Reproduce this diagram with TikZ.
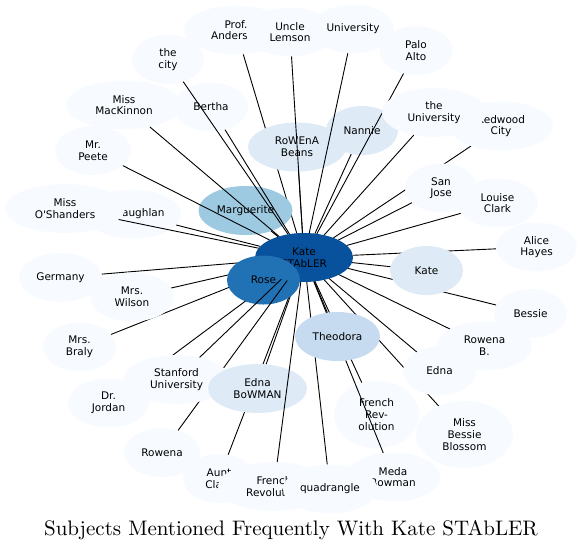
\documentclass[tikz,border=0pt]{standalone}
\usepackage{fontspec}
\usetikzlibrary{shapes.geometric}
\newfontfamily\nodefont{DejaVu Sans}
\newfontfamily\titlefont{lmroman10-regular}[Extension=.otf]
\definecolor{blueA}{HTML}{08519C}
\definecolor{blueB}{HTML}{2171B5}
\definecolor{blueC}{HTML}{9ECAE1}
\definecolor{blueD}{HTML}{C6DBEF}
\definecolor{blueE}{HTML}{DEEBF7}
\definecolor{blueF}{HTML}{F7FBFF}
\pgfdeclarelayer{hub}
\pgfdeclarelayer{under}
\pgfdeclarelayer{outer}
\pgfdeclarelayer{middle}
\pgfdeclarelayer{inner}
\pgfsetlayers{hub,under,outer,middle,inner,main}
\tikzset{
	subj/.style={ellipse, draw=none, fill=blueF, inner sep=0pt, outer sep=0pt, minimum height=49, align=center, font=\nodefont\fontsize{10.5}{11.7}\selectfont},
	link/.style={line width=0.9pt, black}
}
\begin{document}
\begin{tikzpicture}[x=1pt, y=-1pt]
		
		\useasboundingbox (0,0) rectangle (581,550);
		
		\begin{pgfonlayer}{hub}
		\node[subj, fill=blueA, minimum width=98] (kst) at (304,257.5) {Kate\\STAbLER};
		\end{pgfonlayer}
		
		\begin{pgfonlayer}{outer}
		\node[subj, fill=blueB, minimum width=73] (rose) at (263.5,280) {Rose};
		\node[subj, fill=blueC, minimum width=94] (marg) at (245.5,210.5) {Marguerite};
		\node[subj, fill=blueE, minimum width=98] (rowb) at (297,147) {RoWEnA\\Beans};
		\node[subj, fill=blueE, minimum width=72] (nannie) at (362,130.5) {Nannie};
		\node[subj, fill=blueE, minimum width=73] (kate) at (426.5,270.5) {Kate};
		\node[subj, minimum width=72] (city) at (168,59.5) {the\\city};
		\node[subj, minimum width=104] (prof) at (236,30) {Prof.\\Anderson};
		\node[subj, minimum width=88] (uncle) at (290,32) {Uncle\\Lemson};
		\node[subj, minimum width=82] (univ) at (353,29) {University};
		\node[subj, minimum width=73] (palo) at (416,50.5) {Palo\\Alto};
		\node[subj, minimum width=104] (redw) at (501,126) {Redwood\\City};
		\node[subj, minimum width=116] (mack) at (124,105) {Miss\\MacKinnon};
		\node[subj, minimum width=74] (bertha) at (211,107) {Bertha};
		\node[subj, minimum width=76] (peete) at (93,150.5) {Mr.\\Peete};
		\node[subj, minimum width=96] (mcl) at (133,214) {McLaughlan};
		\node[subj, minimum width=120] (oshan) at (65,208.5) {Miss\\O'Shanders};
		\node[subj, minimum width=83] (germ) at (60.5,277.5) {Germany};
		\node[subj, minimum width=84] (wilson) at (132,297) {Mrs.\\Wilson};
		\node[subj, minimum width=73] (braly) at (79.5,347) {Mrs.\\Braly};
		\node[subj, minimum width=81] (jordan) at (108.5,403) {Dr.\\Jordan};
		\node[subj, minimum width=76] (rowena) at (162,452.5) {Rowena};
		\node[subj, minimum width=72] (aunt) at (219,478.5) {Aunt\\Clara};
		\node[subj, minimum width=112] (frrev) at (274,486.5) {French\\Revolution};
		\node[subj, minimum width=95] (meda) at (393,477) {Meda\\Bowman};
		\node[subj, minimum width=94] (quad) at (330,489) {quadrangle};
		\node[subj, minimum width=85, minimum height=68] (frrevb) at (376.5,414.5) {French\\Rev-\\olution};
		\node[subj, minimum width=97, minimum height=67] (blossom) at (464.5,434.5) {Miss\\Bessie\\Blossom};
		\node[subj, minimum width=73] (edna) at (439.5,371) {Edna};
		\node[subj, minimum width=95] (rowenab) at (484.5,346) {Rowena\\B.};
		\node[subj, minimum width=73] (bessie) at (530.5,313.5) {Bessie};
		\node[subj, minimum width=81] (alice) at (536.5,247) {Alice\\Hayes};
		\node[subj, minimum width=72] (sanjose) at (441,188) {San\\Jose};
		\node[subj, minimum width=81] (louise) at (497.5,203) {Louise\\Clark};
		\end{pgfonlayer}
		
		\begin{pgfonlayer}{inner}
		\node[subj, minimum width=104] (theuniv) at (434,112.5) {the\\University};
		\node[subj, minimum width=107] (stan) at (176.5,379.5) {Stanford\\University};
		\node[subj, fill=blueE, minimum width=99] (ednab) at (257.5,388.5) {Edna\\BoWMAN};
		\node[subj, fill=blueD, minimum width=85] (theo) at (337.5,336.5) {Theodora};
		\end{pgfonlayer}
		
		\begin{pgfonlayer}{under}
		\draw[link] (kst) -- (germ);
		\draw[link] (kst) -- (wilson);
		\draw[link] (kst) -- (braly);
		\draw[link] (kst) -- (jordan);
		\draw[link] (kst) -- (prof);
		\draw[link] (kst) -- (redw);
		\draw[link] (kst) -- (bessie);
		\draw[link] (kst) -- (alice);
		\draw[link] (kst) -- (aunt);
		\draw[link] (kst) -- (blossom);
		\draw[link] (kst) -- (quad);
		\draw[link] (kst) -- (marg);
		\draw[link] (kst) -- (rose);
		\draw[link] (kst) -- (theo);
		\draw[link] (kst) -- (kate);
		\draw[link] (kst) -- (rowb);
		\draw[link] (kst) -- (nannie);
		\draw[link] (kst) -- (ednab);
		\draw[link] (kst) -- (mcl);
		\draw[link] (kst) -- (sanjose);
		\draw[link] (kst) -- (louise);
		\draw[link] (kst) -- (rowenab);
		\end{pgfonlayer}
		
		\begin{pgfonlayer}{middle}
		\draw[link] (kst) -- (palo);
		\draw[link] (kst) -- (rowena);
		\draw[link] (kst) -- (meda);
		\draw[link] (kst) -- (frrevb);
		\end{pgfonlayer}
		
		\draw[link] (kst) -- (city);
		\draw[link] (kst) -- (uncle);
		\draw[link] (kst) -- (univ);
		\draw[link] (kst) -- (theuniv);
		\draw[link] (kst) -- (mack);
		\draw[link] (kst) -- (bertha);
		\draw[link] (kst) -- (peete);
		\draw[link] (kst) -- (oshan);
		\draw[link] (kst) -- (stan);
		\draw[link] (kst) -- (frrev);
		\draw[link] (kst) -- (edna);
		
		\node[font=\titlefont\fontsize{21}{25}\selectfont, anchor=base] (title) at (291,535) {Subjects Mentioned Frequently With Kate STAbLER};
		
\end{tikzpicture}
\end{document}
